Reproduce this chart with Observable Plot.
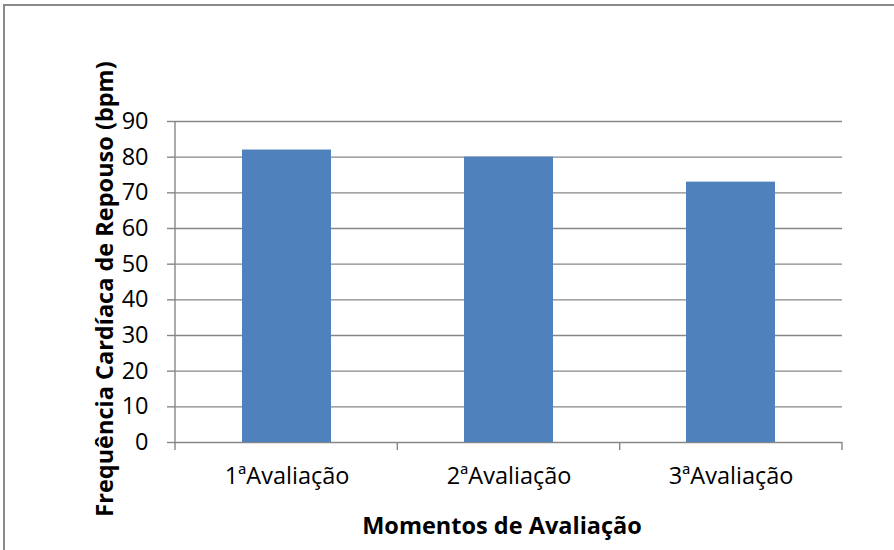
<!DOCTYPE html>
<html>
<head>
<meta charset="utf-8">
<script src="https://cdn.jsdelivr.net/npm/d3@7"></script>
<script src="https://cdn.jsdelivr.net/npm/@observablehq/plot@0.6"></script>
<style>
  html, body { margin: 0; padding: 0; background: #fff; overflow: hidden; }
  #chart { position: relative; width: 894px; height: 550px; }
  #chart svg { display: block; }
  #frame {
    position: absolute; left: 3px; top: 4px; width: 1000px; height: 1000px;
    border: 2px solid #8a8a8a; box-sizing: border-box; pointer-events: none;
  }
</style>
</head>
<body>
<div id="chart"><div id="frame"></div></div>
<script>
const categories = ["1ªAvaliação", "2ªAvaliação", "3ªAvaliação"];
const heartRate = [82, 80, 73];
const yTicks = [0, 10, 20, 30, 40, 50, 60, 70, 80, 90];
const xTitle = "Momentos de Avaliação";
const yTitle = "Frequência Cardíaca de Repouso (bpm)";

const data = categories.map((c, i) => ({momento: c, bpm: heartRate[i]}));

const font = "'Open Sans', sans-serif";
const grey = "#878787";
const fontSize = 23.5;

// y axis line plus the small ticks under the category axis at band edges
function axisLines(index, scales, values, dims) {
  const n = categories.length;
  const x0 = dims.marginLeft, x1 = dims.width - dims.marginRight;
  const y0 = dims.marginTop, y1 = dims.height - dims.marginBottom;
  const g = d3.create("svg:g")
    .attr("stroke", grey)
    .attr("stroke-width", 1.4)
    .attr("fill", "none");
  g.append("line").attr("x1", x0).attr("x2", x0).attr("y1", y0).attr("y2", y1);
  for (let i = 0; i <= n; i++) {
    const x = x0 + (x1 - x0) * i / n;
    g.append("line").attr("x1", x).attr("x2", x).attr("y1", y1).attr("y2", y1 + 8);
  }
  return g.node();
}

const chart = Plot.plot({
  width: 894,
  height: 550,
  marginLeft: 175,
  marginRight: 52,
  marginTop: 121,
  marginBottom: 108,
  style: {fontFamily: font, color: "#000", background: "transparent", overflow: "visible"},
  x: {type: "band", domain: categories, paddingInner: 0.6, paddingOuter: 0.3, axis: null},
  y: {domain: [0, 90], axis: null},
  marks: [
    Plot.ruleY(yTicks, {stroke: grey, strokeWidth: 1.4}),
    Plot.barY(data, {x: "momento", y: "bpm", fill: "#4F81BD"}),
    axisLines,
    Plot.axisY({
      ticks: yTicks, tickSize: 8, tickPadding: 19, stroke: grey, strokeWidth: 1.4,
      fontSize, tickFormat: d => String(d), label: null
    }),
    Plot.axisX({
      tickSize: 0, tickPadding: 25, fontSize, label: null
    }),
    Plot.text([xTitle], {
      frameAnchor: "bottom", textAnchor: "middle", lineAnchor: "middle",
      dx: -7, dy: 83.5, text: d => d,
      fontSize, fontWeight: "bold", fill: "#000"
    }),
    Plot.text([yTitle], {
      frameAnchor: "left", textAnchor: "middle", lineAnchor: "middle",
      rotate: -90, dx: -70.5, dy: 7, text: d => d,
      fontSize, fontWeight: "bold", fill: "#000"
    })
  ]
});

document.getElementById("chart").prepend(chart);
</script>
</body>
</html>
